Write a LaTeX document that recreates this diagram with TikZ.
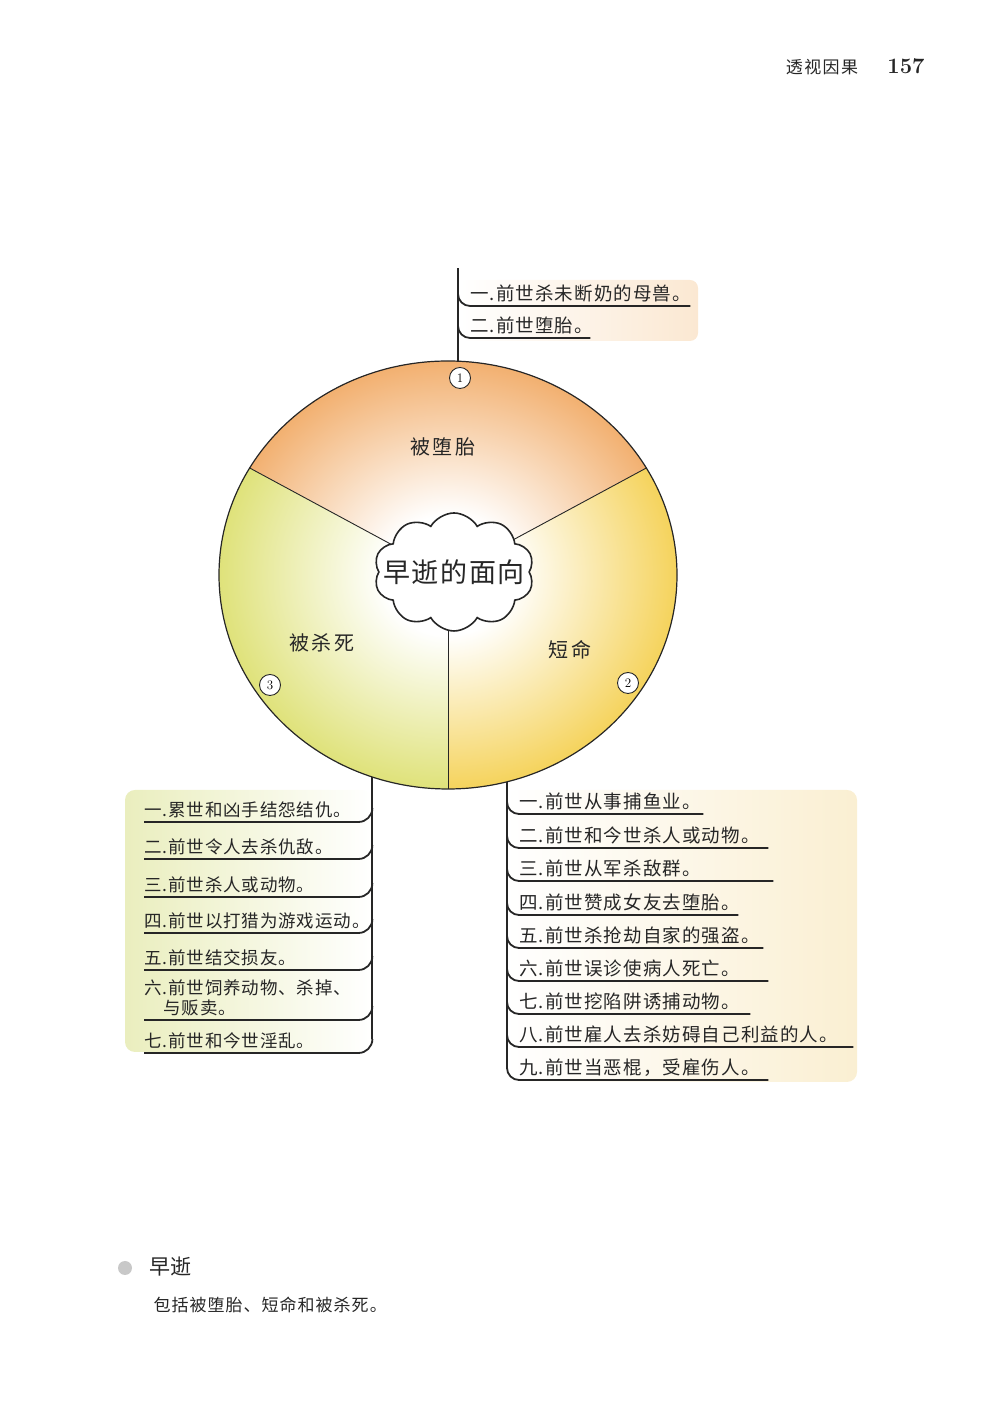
\documentclass[tikz,border=0pt]{standalone}
\usepackage{fontspec}
\newfontfamily\cjk{Noto Sans CJK SC}
\usetikzlibrary{shapes.symbols}

\definecolor{inkgray}{HTML}{262626}
\definecolor{topsector}{HTML}{F2B070}
\definecolor{leftsector}{HTML}{DFE27A}
\definecolor{rightsector}{HTML}{F5D35C}
\definecolor{leftbg}{HTML}{EAEEBE}
\definecolor{rightbg}{HTML}{FAEFD2}
\definecolor{topbg}{HTML}{FBE8D2}
\definecolor{bulletgray}{HTML}{C8C8C8}

\pgfdeclareradialshading{topshade}{\pgfpoint{0bp}{0bp}}{color(0bp)=(white); color(7bp)=(white); color(25bp)=(topsector); color(50bp)=(topsector)}
\pgfdeclareradialshading{leftshade}{\pgfpoint{0bp}{0bp}}{color(0bp)=(white); color(7bp)=(white); color(25bp)=(leftsector); color(50bp)=(leftsector)}
\pgfdeclareradialshading{rightshade}{\pgfpoint{0bp}{0bp}}{color(0bp)=(white); color(7bp)=(white); color(25bp)=(rightsector); color(50bp)=(rightsector)}

\tikzset{
  ink/.style={draw=inkgray, line width=1.8pt},
  rim/.style={draw=inkgray, line width=1.2pt},
  divider/.style={draw=inkgray, line width=0.9pt},
  ritem/.style={anchor=south west, inner xsep=0pt, inner ysep=3.5pt, text width=#1, align=left, text=inkgray,
    font=\cjk\addfontfeature{LetterSpace=6}\fontsize{18.5}{21}\selectfont},
  litem/.style={anchor=south west, inner xsep=0pt, inner ysep=3.5pt, text width=214, align=left, text=inkgray,
    font=\cjk\addfontfeature{LetterSpace=5}\fontsize{17.5}{20}\selectfont},
  sectorlabel/.style={text=inkgray, font=\cjk\addfontfeature{LetterSpace=14}\fontsize{20}{22}\selectfont},
  num/.style={circle, draw=inkgray, line width=0.9pt, fill=white, inner sep=0pt, minimum size=21, font=\fontsize{13}{13}\selectfont},
}

\begin{document}
\begin{tikzpicture}[x=1pt, y=1pt]
  \useasboundingbox (0,0) rectangle (1000,1415);

  % running head
  \node[text=inkgray, font=\cjk\addfontfeature{LetterSpace=8}\fontsize{17}{18}\selectfont] (runhead) at (822,1348) {透视因果};
  \node[text=inkgray, font=\bfseries\fontsize{22}{24}\selectfont] (folio) at (906,1349) {157};

  % panels behind the lists
  \shade[left color=white, middle color=white, right color=topbg, rounded corners=8] (460,1074) rectangle (698,1135);
  \shade[left color=leftbg, right color=white, rounded corners=10] (125,363) rectangle (372,625);
  \shade[left color=white, middle color=white, right color=rightbg, rounded corners=10] (507,333) rectangle (857,625);

  % trunks
  \coordinate (ttop) at (458,1000);
  \coordinate (tend) at (458,1147);
  \coordinate (ltop) at (372,700);
  \coordinate (lend) at (372,376);
  \coordinate (rtop) at (507,700);
  \coordinate (rend) at (507,347);
  \draw[ink] (ttop) -- (tend);
  \draw[ink] (ltop) -- (lend);
  \draw[ink] (rtop) -- (rend);

  % wheel
  \begin{scope}[shift={(448,840)}]
    \begin{scope}
      \clip (0,0) -- (30:229 and 214) arc[start angle=30, end angle=150, x radius=229, y radius=214] -- cycle;
      \shade[shading=topshade] (0,0) ellipse [x radius=229, y radius=214];
    \end{scope}
    \begin{scope}
      \clip (0,0) -- (150:229 and 214) arc[start angle=150, end angle=270, x radius=229, y radius=214] -- cycle;
      \shade[shading=leftshade] (0,0) ellipse [x radius=229, y radius=214];
    \end{scope}
    \begin{scope}
      \clip (0,0) -- (-90:229 and 214) arc[start angle=-90, end angle=30, x radius=229, y radius=214] -- cycle;
      \shade[shading=rightshade] (0,0) ellipse [x radius=229, y radius=214];
    \end{scope}
    \coordinate (hub) at (0,0);
    \coordinate (cut1) at (30:229 and 214);
    \coordinate (cut2) at (150:229 and 214);
    \coordinate (cut3) at (270:229 and 214);
    \draw[divider] (hub) -- (cut1);
    \draw[divider] (hub) -- (cut2);
    \draw[divider] (hub) -- (cut3);
    \draw[rim] (0,0) ellipse [x radius=229, y radius=214];
  \end{scope}

  \node[cloud, cloud puffs=10, cloud puff arc=120, draw=inkgray, line width=1.6pt, fill=white,
    minimum width=160, minimum height=118, inner sep=0pt] (cloud) at (454,843) {};
  \node[text=inkgray, font=\cjk\addfontfeature{LetterSpace=6}\fontsize{27}{28}\selectfont] (title) at (cloud) {早逝的面向};

  \node[sectorlabel] (abort) at (443,968) {被堕胎};
  \node[sectorlabel] (short) at (570,765) {短命};
  \node[sectorlabel] (killed) at (322,772) {被杀死};

  \node[num] (n1) at (460,1037) {1};
  \node[num] (n2) at (628,732) {2};
  \node[num] (n3) at (270,730) {3};

  % top list
  \node[ritem=220] (t1) at (470,1109) {一.前世杀未断奶的母兽。};
  \node[ritem=120] (t2) at (470,1077) {二.前世堕胎。};
  \foreach \i in {1,2}
    \draw[ink] (t\i.south east) -- (t\i.south west) arc[start angle=-90, end angle=-180, radius=12];

  % left list
  \node[litem] (l1) at (144,593) {一.累世和凶手结怨结仇。};
  \node[litem] (l2) at (144,556) {二.前世令人去杀仇敌。};
  \node[litem] (l3) at (144,518) {三.前世杀人或动物。};
  \node[litem] (l4) at (144,482) {四.前世以打猎为游戏运动。};
  \node[litem] (l5) at (144,445) {五.前世结交损友。};
  \node[litem] (l6) at (144,395) {六.前世饲养动物、杀掉、\\\hspace*{1.1em}与贩卖。};
  \node[litem] (l7) at (144,362) {七.前世和今世淫乱。};
  \foreach \i in {1,...,7}
    \draw[ink] (l\i.south west) -- (l\i.south east) arc[start angle=-90, end angle=0, radius=14];

  % right list
  \node[ritem=184] (r1) at (519,601) {一.前世从事捕鱼业。};
  \node[ritem=249] (r2) at (519,567) {二.前世和今世杀人或动物。};
  \node[ritem=254] (r3) at (519,534) {三.前世从军杀敌群。};
  \node[ritem=219] (r4) at (519,500) {四.前世赞成女友去堕胎。};
  \node[ritem=244] (r5) at (519,467) {五.前世杀抢劫自家的强盗。};
  \node[ritem=249] (r6) at (519,434) {六.前世误诊使病人死亡。};
  \node[ritem=231] (r7) at (519,401) {七.前世挖陷阱诱捕动物。};
  \node[ritem=334] (r8) at (519,368) {八.前世雇人去杀妨碍自己利益的人。};
  \node[ritem=249] (r9) at (519,335) {九.前世当恶棍，受雇伤人。};
  \foreach \i in {1,...,9}
    \draw[ink] (r\i.south east) -- (r\i.south west) arc[start angle=-90, end angle=-180, radius=12];

  % note below
  \node[circle, fill=bulletgray, minimum size=14, inner sep=0pt] (bullet) at (125,147) {};
  \node[anchor=west, text=inkgray, font=\cjk\fontsize{21}{22}\selectfont] (heading) at (146,148) {早逝};
  \node[anchor=west, text=inkgray, font=\cjk\addfontfeature{LetterSpace=6}\fontsize{17}{18}\selectfont] (caption) at (150,110) {包括被堕胎、短命和被杀死。};
\end{tikzpicture}
\end{document}
